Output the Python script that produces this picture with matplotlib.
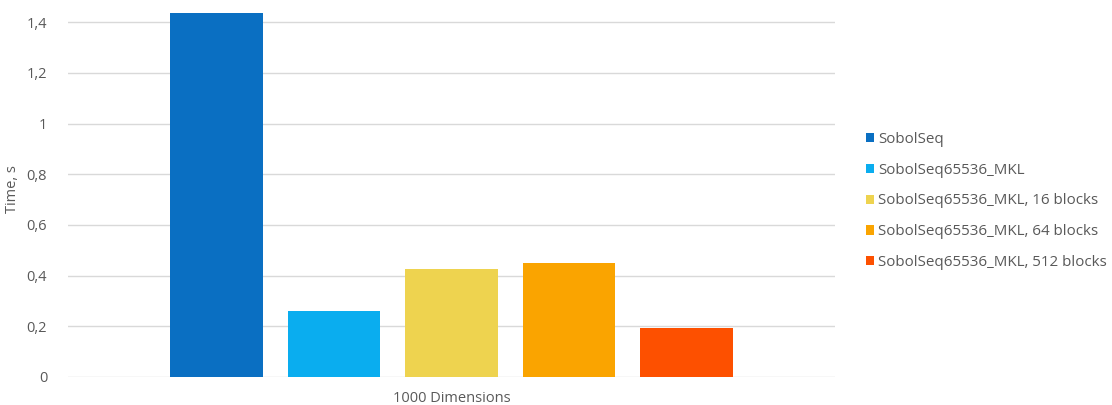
import matplotlib.pyplot as plt
from matplotlib.patches import Patch
from matplotlib.ticker import FuncFormatter

plt.rcParams["font.family"] = ["Open Sans", "DejaVu Sans"]

category = "1000 Dimensions"
series = [
    "SobolSeq",
    "SobolSeq65536_MKL",
    "SobolSeq65536_MKL, 16 blocks",
    "SobolSeq65536_MKL, 64 blocks",
    "SobolSeq65536_MKL, 512 blocks",
]
times = [1.435, 0.26, 0.427, 0.449, 0.194]
colors = ["#0A6FC2", "#0AADEF", "#EED34F", "#FAA400", "#FD5000"]
yticks = [0, 0.2, 0.4, 0.6, 0.8, 1.0, 1.2, 1.4]

textcolor = "#595959"

fig = plt.figure(figsize=(11.12, 4.05), dpi=100)
ax = fig.add_axes([68 / 1112, 28 / 405, 767 / 1112, 375 / 405])

n = len(series)
width = 0.79
for i, (name, val, col) in enumerate(zip(series, times, colors)):
    ax.bar(i - (n - 1) / 2, val, width=width, color=col, label=name, zorder=3)

half = 767 / 117.5 / 2
ax.set_xlim(-half, half)
ax.set_ylim(0, 1.48)
ax.set_yticks(yticks)
ax.yaxis.set_major_formatter(
    FuncFormatter(lambda v, p: ("%g" % round(v, 1)).replace(".", ","))
)
ax.set_xticks([0])
ax.set_xticklabels([category])
ax.tick_params(axis="both", length=0, labelsize=10.5, colors=textcolor)
ax.tick_params(axis="y", pad=15)
ax.tick_params(axis="x", pad=10)
ax.grid(axis="y", color="#D9D9D9", linewidth=1, zorder=0)
for sp in ax.spines.values():
    sp.set_visible(False)
ax.set_ylabel("Time, s", fontsize=10.5, color=textcolor, labelpad=5)

handles = [Patch(facecolor=c, edgecolor="none") for c in colors]
fig.legend(
    handles,
    series,
    loc="center left",
    bbox_to_anchor=(852 / 1112, 1 - 201 / 405),
    frameon=False,
    fontsize=10.9,
    labelcolor=textcolor,
    handlelength=0.55,
    handleheight=0.55,
    handletextpad=0.3,
    labelspacing=1.05,
)

fig.savefig("out.png", dpi=100)
